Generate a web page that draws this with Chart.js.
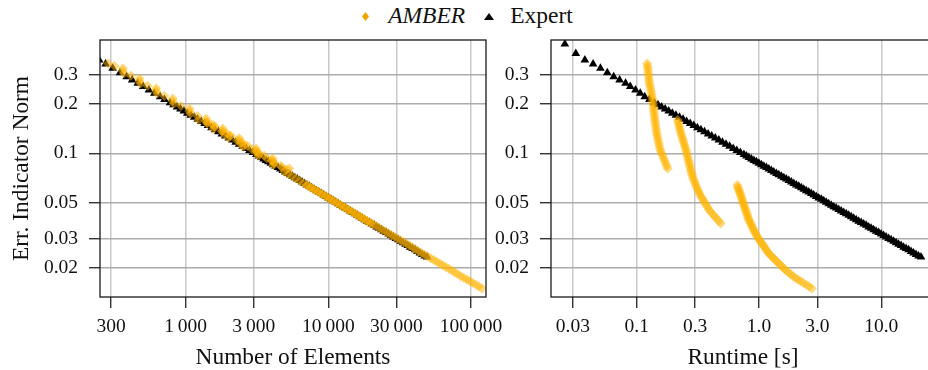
<!DOCTYPE html>
<html>
<head>
<meta charset="utf-8">
<script src="https://cdn.jsdelivr.net/npm/chart.js@4.4.1/dist/chart.umd.min.js"></script>
<style>
  body { margin: 0; width: 928px; height: 370px; overflow: hidden; background: #fff; position: relative;
         font-family: 'Liberation Serif', 'Times New Roman', serif; }
  canvas { position: absolute; top: 0; }
  #legend { position: absolute; top: 4px; left: 0; width: 928px; height: 24px; display: flex;
            justify-content: center; align-items: center; padding-left: 7px; box-sizing: border-box;
            font-size: 23.5px; line-height: 1; color: #111; }
  #legend svg { display: block; }
</style>
</head>
<body>
<div id="legend">
  <svg width="7" height="9" style="margin-right:19px"><polygon points="3.5,0 7,4.5 3.5,9 0,4.5" fill="#f4a300"/></svg>
  <i>AMBER</i>
  <svg width="10" height="7" style="margin-left:19px;margin-right:16px"><polygon points="5,0 10,7 0,7" fill="#000"/></svg>
  <span>Expert</span>
</div>
<canvas id="left" width="520" height="370" style="left:0"></canvas>
<canvas id="right" width="500" height="370" style="left:440px"></canvas>
<script>
// ---- data ----

// Expert: error indicator, number of elements, runtime [s]
var expertErr = [0.463, 0.406, 0.370, 0.350, 0.330, 0.310, 0.293, 0.280, 0.267, 0.255, 0.243, 0.232, 0.221, 0.213, 0.2032,
  0.1974, 0.1917, 0.1862, 0.1809, 0.1757, 0.1706, 0.1657, 0.1610, 0.1564, 0.1519, 0.1475, 0.1433, 0.1392, 0.1352, 0.1313,
  0.1275, 0.1239, 0.1203, 0.1169, 0.1135, 0.1103, 0.1071, 0.1040, 0.1011, 0.0982,
  0.0962, 0.0943, 0.0924, 0.0905, 0.0887, 0.0869, 0.0852, 0.0835, 0.0818, 0.0802, 0.0785, 0.0770, 0.0754, 0.0739, 0.0724,
  0.0710, 0.0696, 0.0682, 0.0668, 0.0655, 0.0641, 0.0629, 0.0616, 0.0604, 0.0591, 0.0580, 0.0568, 0.0557, 0.0545, 0.0534,
  0.0524, 0.0513, 0.0503, 0.0493, 0.0483, 0.0473, 0.0464, 0.0454, 0.0445, 0.0436, 0.0428, 0.0419, 0.0411, 0.0402, 0.0394,
  0.0386, 0.0379, 0.0371, 0.0364, 0.0356, 0.0349, 0.0342, 0.0335, 0.0329, 0.0322, 0.0315, 0.0309, 0.0303, 0.0297, 0.0291,
  0.0285, 0.0279, 0.0274, 0.0268, 0.0263, 0.0258, 0.0252, 0.0247, 0.0242, 0.0237, 0.0233];
var expertN = [161, 207, 248, 275, 308, 347, 386, 422, 462, 504, 553, 604, 663, 711, 778,
  823, 870, 920, 972, 1028, 1087, 1149, 1215, 1285, 1358, 1436, 1518, 1605, 1697, 1795,
  1898, 2006, 2121, 2243, 2371, 2507, 2651, 2803, 2964, 3133,
  3257, 3386, 3520, 3659, 3804, 3954, 4110, 4273, 4442, 4617, 4800, 4990, 5187, 5392, 5605,
  5827, 6057, 6297, 6546, 6805, 7074, 7353, 7644, 7946, 8260, 8587, 8927, 9280, 9646, 10031,
  10428, 10840, 11269, 11715, 12178, 12660, 13161, 13681, 14222, 14785, 15370, 15978, 16610, 17267, 17950,
  18660, 19398, 20165, 20962, 21795, 22657, 23553, 24484, 25452, 26458, 27504, 28592, 29722, 30897, 32118,
  33388, 34708, 36080, 37507, 38990, 40532, 42135, 43801, 45533, 47333, 49205];
var expertTime = [0.0258, 0.0317, 0.0376, 0.0439, 0.0504, 0.0574, 0.0647, 0.0723, 0.0809, 0.0884, 0.0976, 0.1067, 0.1161, 0.1269, 0.1393,
  0.1490, 0.1594, 0.1705, 0.1824, 0.1952, 0.2088, 0.2234, 0.2390, 0.2556, 0.2735, 0.2925, 0.3130, 0.3348, 0.3582, 0.3832,
  0.4099, 0.4385, 0.4691, 0.5018, 0.5368, 0.5743, 0.6144, 0.6572, 0.7031, 0.7522,
  0.7884, 0.8263, 0.8660, 0.9076, 0.9513, 0.9970, 1.0450, 1.0952, 1.1479, 1.2030, 1.2609, 1.3215, 1.3850, 1.4516, 1.5214,
  1.5946, 1.6712, 1.7516, 1.8358, 1.9241, 2.0166, 2.1136, 2.2152, 2.3217, 2.4333, 2.5503, 2.6729, 2.8014, 2.9361, 3.0773,
  3.2252, 3.3803, 3.5428, 3.7132, 3.8917, 4.0788, 4.2749, 4.4805, 4.6959, 4.9264, 5.1633, 5.4115, 5.6717, 5.9444, 6.2302,
  6.5298, 6.8437, 7.1728, 7.5176, 7.8805, 8.2594, 8.6565, 9.0727, 9.5089, 9.9661, 10.445, 10.948, 11.474, 12.026, 12.608,
  13.214, 13.849, 14.515, 15.213, 15.944, 16.711, 17.514, 18.356, 19.239, 20.164, 21.133];

// AMBER: three runs (error, number of elements, runtime [s])
var amber1Err = [0.353, 0.3293, 0.3069, 0.2861, 0.2667, 0.2487, 0.2318, 0.2161, 0.2014, 0.1878, 0.1750, 0.1632, 0.1521, 0.1418,
  0.1322, 0.1233, 0.1149, 0.1071, 0.0999, 0.0931, 0.0868, 0.0809,
  0.3410, 0.3180, 0.2964, 0.2762, 0.2576, 0.2402, 0.2238, 0.2086, 0.1945, 0.1813, 0.1690, 0.1576, 0.1469, 0.1369,
  0.1277, 0.1191, 0.1110, 0.1035, 0.0965, 0.0899, 0.0838];
var amber1N = [286, 363, 370, 475, 484, 622, 633, 813, 828, 1064, 1083, 1392, 1416, 1821, 1853, 2382, 2424, 3116, 3172, 4077, 4151, 5334,
  317, 362, 414, 474, 542, 620, 709, 811, 928, 1061, 1213, 1388, 1587, 1815, 2076, 2375, 2716, 3107, 3554, 4065, 4650];
var amber1Time = [0.1216, 0.1229, 0.1243, 0.1256, 0.1269, 0.1293, 0.1317, 0.1342, 0.1359, 0.1372, 0.1385, 0.1400, 0.1418, 0.1437,
  0.1455, 0.1483, 0.1512, 0.1541, 0.1593, 0.1659, 0.1723, 0.1789,
  0.1222, 0.1236, 0.1250, 0.1262, 0.1281, 0.1305, 0.1329, 0.1350, 0.1365, 0.1378, 0.1392, 0.1409, 0.1427, 0.1446,
  0.1469, 0.1497, 0.1526, 0.1567, 0.1626, 0.1691, 0.1756];

var amber2Err = [0.1596, 0.1498, 0.1406, 0.1320, 0.1240, 0.1164, 0.1093, 0.1026, 0.0964, 0.0905, 0.0849, 0.0797, 0.0749, 0.0703,
  0.0660, 0.0619, 0.0582, 0.0546, 0.0513, 0.0482, 0.0452, 0.0424, 0.0399, 0.0374,
  0.1546, 0.1451, 0.1362, 0.1279, 0.1201, 0.1128, 0.1059, 0.0994, 0.0934, 0.0877, 0.0823, 0.0773, 0.0726, 0.0681,
  0.0639, 0.0600, 0.0564, 0.0530, 0.0497, 0.0467, 0.0438, 0.0411, 0.0386];
var amber2N = [1231, 1528, 1567, 1945, 1995, 2476, 2540, 3153, 3234, 4014, 4117, 5110, 5241, 5914, 6672, 7528, 8492, 9581,
  10811, 12199, 13763, 15529, 17520, 19770,
  1413, 1593, 1797, 2028, 2289, 2582, 2914, 3288, 3710, 4186, 4723, 4934, 5567, 6282,
  7087, 7995, 9020, 10177, 11484, 12958, 14619, 16494, 18611];
var amber2Time = [0.2158, 0.2204, 0.2251, 0.2300, 0.2359, 0.2419, 0.2481, 0.2541, 0.2594, 0.2649, 0.2705, 0.2761, 0.2820, 0.2893,
  0.2992, 0.3096, 0.3203, 0.3349, 0.3522, 0.3705, 0.3896, 0.4193, 0.4515, 0.4864,
  0.2181, 0.2227, 0.2275, 0.2329, 0.2389, 0.2450, 0.2511, 0.2567, 0.2621, 0.2677, 0.2733, 0.2790, 0.2856, 0.2942,
  0.3044, 0.3149, 0.3275, 0.3434, 0.3612, 0.3799, 0.4042, 0.4352, 0.4688];

var amber3Err = [0.0640, 0.0609, 0.0579, 0.0551, 0.0524, 0.0498, 0.0474, 0.0451, 0.0429, 0.0408, 0.0388, 0.0369, 0.0351, 0.0334,
  0.0318, 0.0302, 0.0288, 0.0274, 0.0260, 0.0247, 0.0235, 0.0224, 0.0213, 0.0203, 0.0193, 0.0183, 0.0174, 0.0166, 0.0158, 0.0150,
  0.0624, 0.0594, 0.0565, 0.0537, 0.0511, 0.0486, 0.0462, 0.0440, 0.0418, 0.0398, 0.0378, 0.0360, 0.0342, 0.0326,
  0.0310, 0.0295, 0.0281, 0.0267, 0.0253, 0.0241, 0.0229, 0.0218, 0.0208, 0.0198, 0.0188, 0.0178, 0.0170, 0.0162, 0.0154];
var amber3N = [7079, 7804, 8603, 9483, 10452, 11522, 12701, 14001, 15433, 17012, 18750, 20670, 22785, 25115, 27686, 30520,
  33640, 37085, 40880, 45060, 49660, 54740, 60350, 66520, 73330, 80820, 89100, 98200, 108250, 119300,
  7433, 8194, 9032, 9956, 10974, 12097, 13335, 14700, 16203, 17860, 19687, 21702, 23922, 26369,
  29069, 32042, 35321, 38936, 42920, 47303, 52139, 57478, 63362, 69842, 76985, 84860, 93541, 103105, 113643];
var amber3Time = [0.6637, 0.6786, 0.6939, 0.7096, 0.7255, 0.7419, 0.7586, 0.7757, 0.7934, 0.8113, 0.8312, 0.8592, 0.8882, 0.9182,
  0.9493, 0.9879, 1.0351, 1.0852, 1.1374, 1.1925, 1.2700, 1.3577, 1.4508, 1.5514, 1.6637, 1.8181, 1.9867, 2.1838, 2.4294, 2.7059,
  0.6711, 0.6862, 0.7017, 0.7175, 0.7337, 0.7502, 0.7671, 0.7845, 0.8023, 0.8212, 0.8451, 0.8736, 0.9031, 0.9336,
  0.9684, 1.0113, 1.0599, 1.1111, 1.1646, 1.2306, 1.3131, 1.4033, 1.4997, 1.6067, 1.7392, 1.9006, 2.0829, 2.3033, 2.5639];

// ticks
var yTicks = [0.02, 0.03, 0.05, 0.1, 0.2, 0.3];
var yTickLabels = ['0.02', '0.03', '0.05', '0.1', '0.2', '0.3'];
var nTicks = [300, 1000, 3000, 10000, 30000, 100000];
var nTickLabels = ['300', '1\u2009000', '3\u2009000', '10\u2009000', '30\u2009000', '100\u2009000'];
var tTicks = [0.03, 0.1, 0.3, 1, 3, 10];
var tTickLabels = ['0.03', '0.1', '0.3', '1.0', '3.0', '10.0'];

// ---- chart set up ----

var serif = "'Liberation Serif', 'Times New Roman', serif";
var amberFill = 'rgba(255, 180, 0, 0.5)';

function pts(xs, ys) {
  return xs.map(function (x, i) { return {x: x, y: ys[i]}; });
}

// full frame round the plot area
var boxPlugin = {
  id: 'box',
  afterDraw: function (chart) {
    var a = chart.chartArea, ctx = chart.ctx;
    ctx.save();
    ctx.strokeStyle = '#1a1a1a';
    ctx.lineWidth = 1.3;
    ctx.strokeRect(a.left, a.top, a.right - a.left, a.bottom - a.top);
    ctx.restore();
  }
};

function logAxis(min, max, ticks, labels, title, gridColor, fit) {
  return {
    type: 'logarithmic',
    min: min,
    max: max,
    afterBuildTicks: function (s) { s.ticks = ticks.map(function (v) { return {value: v}; }); },
    afterFit: fit,
    ticks: {
      autoSkip: false, maxRotation: 0, minRotation: 0, padding: 7,
      color: '#111', font: {family: serif, size: 19.5},
      callback: function (v, i) { return labels[i]; }
    },
    grid: { color: gridColor, lineWidth: 1.5, tickColor: '#111', tickLength: 11, tickWidth: 1.2 },
    border: { display: false },
    title: {
      display: !!title.text, text: title.text, color: '#111',
      font: {family: serif, size: 23.4, lineHeight: 1},
      padding: title.y ? {top: 10, bottom: 0} : {top: 0, bottom: 0}
    }
  };
}

function yAxis(width, text) {
  var a = logAxis(0.01331, 0.4903, yTicks, yTickLabels, {text: text, y: true}, '#ababab',
    function (s) { s.width = width; });
  a.ticks.padding = 11;
  return a;
}

function amberSet(data) {
  return { data: data, pointStyle: 'rectRot', pointRadius: 5, backgroundColor: amberFill, borderWidth: 0 };
}

function expertSet(data) {
  return { data: data, pointStyle: 'triangle', pointRadius: 5, backgroundColor: '#000', borderWidth: 0 };
}

var common = {
  responsive: false,
  animation: false,
  events: [],
  plugins: { legend: {display: false}, tooltip: {enabled: false} }
};

// left: error vs number of elements (AMBER first so it is drawn on top)
new Chart(document.getElementById('left'), {
  type: 'scatter',
  data: { datasets: [
    amberSet(pts(amber1N, amber1Err).concat(pts(amber2N, amber2Err), pts(amber3N, amber3Err))),
    expertSet(pts(expertN, expertErr))
  ]},
  options: Object.assign({}, common, {
    layout: { padding: {top: 40, right: 34, left: 0, bottom: 0} },
    scales: {
      x: logAxis(251.2, 127350, nTicks, nTickLabels, {text: 'Number of Elements'}, '#c8c8c8',
        function (s) { s.height = 73; }),
      y: yAxis(100, 'Err. Indicator Norm')
    }
  }),
  plugins: [boxPlugin]
});

// right: error vs runtime
new Chart(document.getElementById('right'), {
  type: 'scatter',
  data: { datasets: [
    amberSet(pts(amber1Time, amber1Err)),
    amberSet(pts(amber2Time, amber2Err)),
    amberSet(pts(amber3Time, amber3Err)),
    expertSet(pts(expertTime, expertErr))
  ]},
  options: Object.assign({}, common, {
    layout: { padding: {top: 40, right: 3, left: 0, bottom: 0} },
    scales: {
      x: logAxis(0.01987, 27.5, tTicks, tTickLabels, {text: 'Runtime [s]'}, '#c8c8c8',
        function (s) { s.height = 73; }),
      y: yAxis(111, '')
    }
  }),
  plugins: [boxPlugin]
});
</script>
</body>
</html>
